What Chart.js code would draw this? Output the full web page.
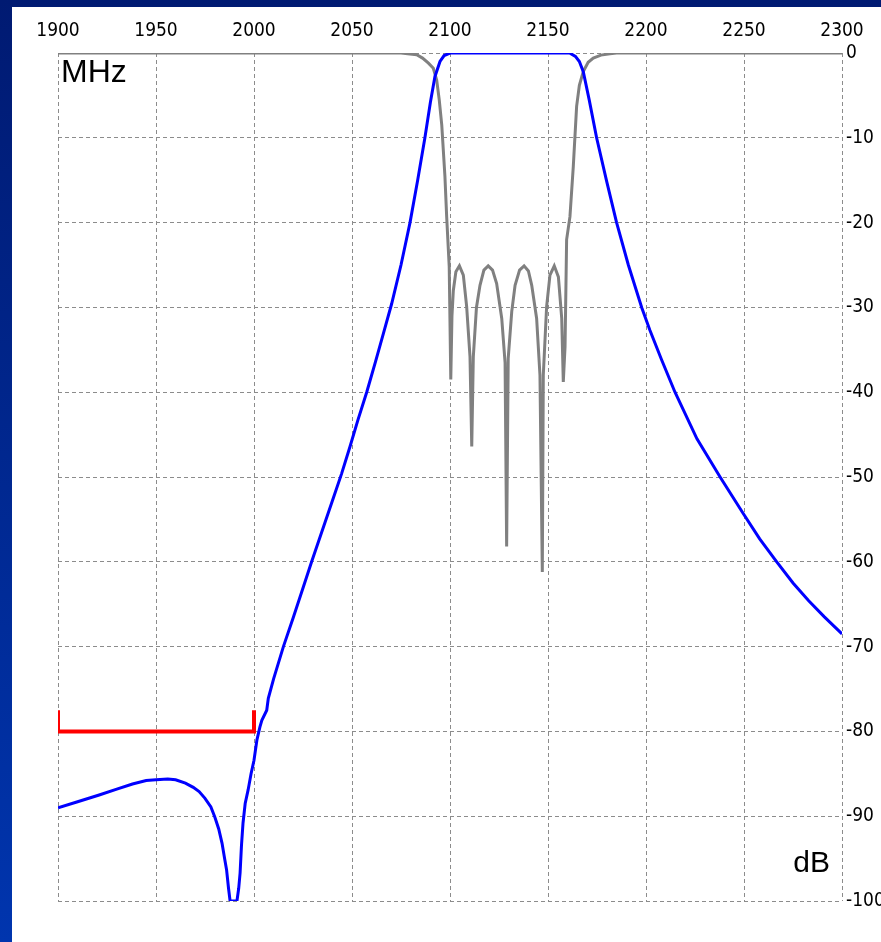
<!DOCTYPE html>
<html><head><meta charset="utf-8">
<script src="https://cdn.jsdelivr.net/npm/chart.js@4"></script>
<style>
html,body{margin:0;padding:0;}
body{width:881px;height:942px;background:linear-gradient(to bottom,#001a72,#0035ae);position:relative;overflow:hidden;}
#wrap{position:absolute;left:12px;top:7px;width:869px;height:935px;background:#fff;}
canvas{display:block;}
</style></head><body>
<div id="wrap"><canvas id="c" width="869" height="935"></canvas></div>
<script>
// S21 (transmission, blue)
const freqS21 = [1900,1910,1921,1930,1938,1945,1950,1956,1960,1965,1969,1972,1975,1978,1980,1982,1983.7,1985,1986,1987,1987.8,1991.3,1992.2,1992.9,1993.6,1994.4,1995.5,1997,1998.5,2000,2001.5,2003,2004,2006.5,2007.3,2010,2015,2020,2025,2029.4,2035,2040,2044.7,2049,2053,2057.5,2062,2066,2070.2,2075,2079.6,2083.5,2087.2,2090,2092.3,2094.9,2097,2100,2161,2164,2166,2168,2171,2174.8,2180,2185,2191,2197.8,2202,2208,2214.8,2226,2237.8,2249.6,2258,2266.7,2275,2283,2291,2300];
const dbS21 = [-89.0,-88.3,-87.5,-86.8,-86.2,-85.8,-85.7,-85.6,-85.7,-86.1,-86.6,-87.1,-87.9,-88.9,-90.1,-91.5,-93.2,-95,-96.3,-98.5,-100,-100,-98.5,-96.7,-93.5,-90.8,-88.5,-86.9,-85,-83.4,-81,-79.5,-78.7,-77.5,-76.1,-73.8,-70,-66.6,-63.1,-60,-56.2,-52.8,-49.6,-46.4,-43.3,-40,-36.4,-33.1,-29.6,-25,-20,-15,-10,-5.8,-2.8,-1.0,-0.3,0,0,-0.4,-1.0,-2.2,-5.5,-10,-15.2,-20,-25,-30,-32.7,-36.2,-40,-45.5,-50,-54.3,-57.3,-60,-62.5,-64.6,-66.5,-68.5];
// S11 (reflection, gray)
const freqS11 = [1900,2075,2083,2086,2089,2091.5,2093.2,2094.5,2095.8,2097.4,2098.3,2099.6,2100.4,2101.0,2101.7,2103,2104.8,2106.8,2108.5,2110.2,2111.1,2111.9,2113.5,2115.3,2117.3,2119.5,2121.7,2123.8,2126.4,2128.1,2128.9,2129.7,2131.5,2133.2,2135.5,2137.8,2140,2141.7,2144.2,2145.9,2147.1,2147.6,2149.3,2151,2153.2,2155.3,2157,2157.8,2158.7,2159.5,2161.2,2162.9,2164.6,2166,2168,2170.5,2173.1,2177,2181.6,2185,2300];
const dbS11 = [0,0,-0.2,-0.6,-1.2,-1.8,-3.2,-5.5,-8.5,-14.5,-19.3,-25.2,-38.5,-31,-28,-25.8,-25.1,-26.2,-29.9,-35.8,-46.4,-35.8,-30,-27.4,-25.6,-25.1,-25.6,-27.2,-31.3,-36.5,-58.2,-36,-30.5,-27.4,-25.6,-25.1,-25.7,-27.4,-31.3,-38,-61.2,-38,-29.9,-26.2,-25.1,-26.4,-31.3,-38.8,-34.6,-22,-19.3,-13.4,-6.3,-3.8,-2.2,-1.1,-0.6,-0.25,-0.1,0,0];
// Rejection mask (red)
const maskFreq = [1900,1900,2000,2000];
const maskDb = [-77.5,-80,-80,-77.5];
// Tick labels
const xTickLabels = ['1900','1950','2000','2050','2100','2150','2200','2250','2300'];
const yTickLabels = ['-100','-90','-80','-70','-60','-50','-40','-30','-20','-10','0'];
const xUnit = 'MHz';
const yUnit = 'dB';

const pts = (xs, ys) => xs.map((x, i) => ({x: x, y: ys[i]}));
const tickFont = {family: "'DejaVu Sans Condensed','DejaVu Sans',sans-serif", size: 19};

const unitLabels = {
  id: 'unitLabels',
  afterDraw(chart) {
    const ctx = chart.ctx, a = chart.chartArea;
    ctx.save();
    ctx.fillStyle = '#000';
    ctx.font = "32px 'Liberation Sans', Arial, sans-serif";
    ctx.textAlign = 'left';
    ctx.textBaseline = 'alphabetic';
    ctx.fillText(xUnit, a.left + 3, a.top + 29);
    ctx.font = "30px 'Liberation Sans', Arial, sans-serif";
    ctx.textAlign = 'right';
    ctx.fillText(yUnit, a.right - 12, a.bottom - 29);
    ctx.restore();
  }
};

new Chart(document.getElementById('c'), {
  type: 'scatter',
  data: {
    datasets: [
      {label: 'mask', data: pts(maskFreq, maskDb), showLine: true, borderColor: '#ff0000', borderWidth: 4, pointRadius: 0, order: 0, tension: 0, borderJoinStyle: 'miter'},
      {label: 'S21', data: pts(freqS21, dbS21), showLine: true, borderColor: '#0000ff', borderWidth: 3, pointRadius: 0, order: 1, tension: 0},
      {label: 'S11', data: pts(freqS11, dbS11), showLine: true, borderColor: '#808080', borderWidth: 3, pointRadius: 0, order: 2, tension: 0}
    ]
  },
  options: {
    responsive: false,
    animation: false,
    devicePixelRatio: 1,
    layout: {padding: {left: 46, right: 0, top: 0, bottom: 41}},
    plugins: {legend: {display: false}, tooltip: {enabled: false}},
    scales: {
      x: {
        type: 'linear', position: 'top', min: 1900, max: 2300,
        afterFit(s) { s.height = 46; },
        ticks: {stepSize: 50, padding: 11, color: '#000', font: tickFont, maxRotation: 0, autoSkip: false,
          callback: (v, i) => xTickLabels[i]},
        grid: {color: '#8c8c8c', lineWidth: 1, drawTicks: false},
        border: {display: false, dash: [4, 3]}
      },
      y: {
        type: 'linear', position: 'right', min: -100, max: 0,
        afterFit(s) { s.width = 39; },
        ticks: {stepSize: 10, padding: 4, color: '#000', font: tickFont, autoSkip: false,
          callback: (v, i) => yTickLabels[i]},
        grid: {color: '#8c8c8c', lineWidth: 1, drawTicks: false},
        border: {display: false, dash: [4, 3]}
      }
    }
  },
  plugins: [unitLabels]
});
</script>
</body></html>
